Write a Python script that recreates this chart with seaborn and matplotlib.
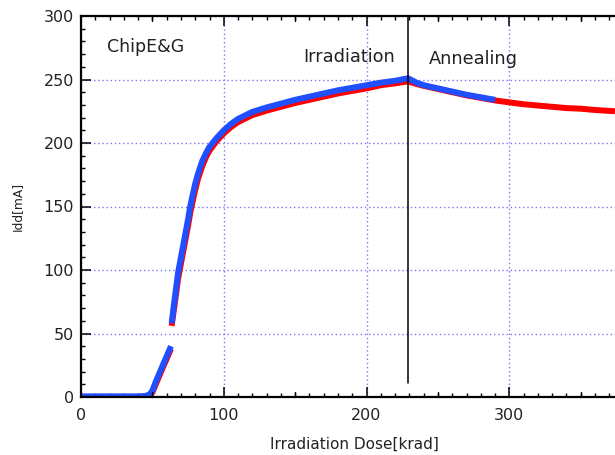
import matplotlib
matplotlib.use("Agg")
import matplotlib.pyplot as plt
import seaborn as sns
import pandas as pd
import numpy as np
from matplotlib.ticker import MultipleLocator, FixedLocator

# ---- data ----
# segment 1: below the jump, segment 2: above the jump (irradiation + annealing)
blue_x1 = [0, 10, 20, 30, 40, 45, 48, 50, 52, 55, 58, 60, 63]
blue_y1 = [0.5, 0.5, 0.5, 0.5, 0.5, 0.8, 2, 5, 11, 19, 27, 32, 40]
blue_x2 = [63.5, 65, 68, 70, 72, 75, 76.5, 78, 80, 82, 85, 88, 90, 95, 100, 105, 110,
           120, 130, 140, 150, 160, 170, 180, 190, 200, 210, 220, 229,
           235, 240, 250, 260, 270, 280, 290]
blue_y2 = [58, 72, 98, 110, 122, 140, 150, 158, 168, 176, 186, 193, 197, 204, 210, 215, 219,
           224.5, 228, 231, 234, 236.5, 239, 241.5, 243.5, 245.5, 247.5, 249, 251,
           247.5, 245.5, 243, 240.5, 238, 236, 234]

red_x1 = [0, 10, 20, 30, 40, 45, 48, 50, 52, 55, 58, 60, 63]
red_y1 = [0, 0, 0, 0, 0, 0.3, 1, 3.5, 9, 17, 25, 30, 38]
red_x2 = [63.5, 65, 68, 70, 72, 75, 76.5, 78, 80, 82, 85, 88, 90, 95, 100, 105, 110,
          120, 130, 140, 150, 160, 170, 180, 190, 200, 210, 220, 229,
          235, 240, 250, 260, 270, 280, 290, 300, 310, 320, 330, 340, 350, 360, 374]
red_y2 = [56, 68, 93, 105, 117, 135, 145, 153, 163, 172, 182, 190, 194, 201.5, 207.5, 212.5, 216.5,
          222, 225.5, 228.5, 231.5, 234, 236.5, 239, 241, 243, 245.5, 247, 248.5,
          246.5, 245, 242.5, 240, 237.5, 235.5, 233.5, 232, 230.5, 229.5, 228.5, 227.5,
          227, 226, 225]

anneal_start = 229
x_ticks = [0, 100, 200, 300]
y_ticks = [0, 50, 100, 150, 200, 250, 300]

rows = []
for name, segs in [("red", [(red_x1, red_y1), (red_x2, red_y2)]),
                   ("blue", [(blue_x1, blue_y1), (blue_x2, blue_y2)])]:
    for si, (xs, ys) in enumerate(segs):
        for xv, yv in zip(xs, ys):
            rows.append({"dose": xv, "idd": yv, "series": name, "seg": si})
df = pd.DataFrame(rows)

sns.set_theme(style="white")
plt.rcParams['font.family'] = ['DejaVu Sans']

fig = plt.figure(figsize=(6.15, 4.55), dpi=100)
ax = fig.add_axes([81/615, 1-397/455, (615-81)/615, (397-16)/455])

sns.lineplot(data=df, x="dose", y="idd", hue="series", units="seg", estimator=None,
             sort=False, palette={"red": "#ff0000", "blue": "#1f4fff"},
             hue_order=["red", "blue"], linewidth=4.3, legend=False, ax=ax,
             solid_capstyle="butt")

ax.set_xlim(0, 374)
ax.set_ylim(0, 300)
ax.xaxis.set_major_locator(FixedLocator(x_ticks))
ax.yaxis.set_major_locator(FixedLocator(y_ticks))
ax.xaxis.set_minor_locator(MultipleLocator(10))
ax.yaxis.set_minor_locator(MultipleLocator(10))

ax.grid(True, which="major", color="#7777ff", linestyle=(0, (1, 2)), linewidth=1.0)
ax.set_axisbelow(True)

ax.tick_params(which="both", direction="in", colors="black", top=True, right=False,
               bottom=True, left=True, labelsize=11.5)
ax.tick_params(which="major", length=7.2, width=1.1)
ax.tick_params(which="minor", length=3.2, width=1.0)
ax.tick_params(axis="x", pad=8)
ax.tick_params(axis="y", pad=5)

# medium ticks at 50s on x
for loc in [50, 150, 250, 350]:
    ax.plot([loc, loc], [0, 4.2], color="black", lw=1.0, clip_on=False, zorder=5)
    ax.plot([loc, loc], [300 - 4.2, 300], color="black", lw=1.0, clip_on=False, zorder=5)

for side in ["left", "bottom", "top"]:
    ax.spines[side].set_color("black")
    ax.spines[side].set_linewidth(1.6)
ax.spines["right"].set_visible(False)

ax.axvline(anneal_start, ymin=11/300, ymax=1, color="black", lw=1.1, zorder=6)

ax.set_xlabel("Irradiation Dose[krad]", fontsize=11, color="#222222")
ax.set_ylabel("Idd[mA]", fontsize=8.8, color="#222222")
ax.xaxis.set_label_coords(0.512, -0.105)
ax.yaxis.set_label_coords(-0.108, 0.5)

ax.text(18, 275.5, "ChipE&G", fontsize=12.5, va="center", ha="left", color="#222222")
ax.text(155.5, 268, "Irradiation", fontsize=12.8, va="center", ha="left", color="#222222")
ax.text(243.5, 266, "Annealing", fontsize=12.8, va="center", ha="left", color="#222222")

for lab in ax.get_xticklabels() + ax.get_yticklabels():
    lab.set_color("#222222")

fig.savefig("out.png", dpi=100)
